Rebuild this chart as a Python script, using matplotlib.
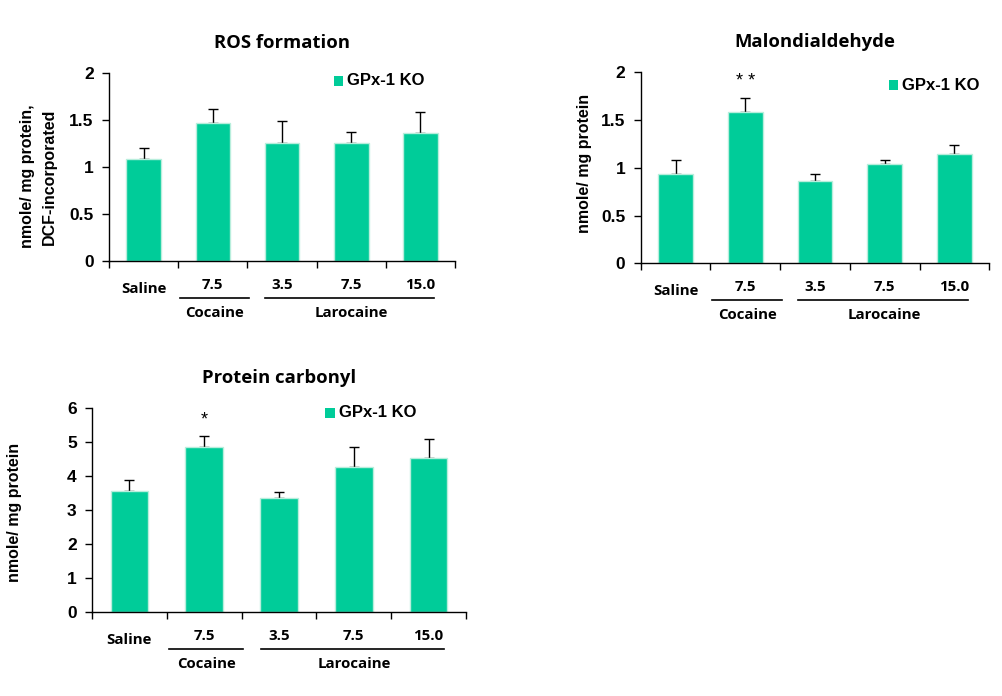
import matplotlib
matplotlib.use("Agg")
import matplotlib.pyplot as plt
import matplotlib.transforms as mtrans
from matplotlib.patches import Rectangle
from matplotlib.lines import Line2D

# ---- data ----
categories = ["Saline", "7.5", "3.5", "7.5", "15.0"]
groups = ["Cocaine", "Larocaine"]
legend_label = "GPx-1 KO"

ros_mean = [1.09, 1.475, 1.26, 1.26, 1.36]
ros_err = [0.12, 0.145, 0.23, 0.12, 0.225]

mda_mean = [0.935, 1.58, 0.862, 1.037, 1.14]
mda_err = [0.145, 0.15, 0.07, 0.045, 0.095]

pc_mean = [3.57, 4.87, 3.35, 4.28, 4.54]
pc_err = [0.31, 0.31, 0.18, 0.57, 0.55]

titles = ["ROS formation", "Malondialdehyde", "Protein carbonyl"]
ylabels = ["nmole/ mg protein,\nDCF-incorporated", "nmole/ mg protein", "nmole/ mg protein"]
yticks_ros = [0, 0.5, 1, 1.5, 2]
yticks_mda = [0, 0.5, 1, 1.5, 2]
yticks_pc = [0, 1, 2, 3, 4, 5, 6]
sig_ros = ["", "", "", "", ""]
sig_mda = ["", "* *", "", "", ""]
sig_pc = ["", "*", "", "", ""]

BAR = "#00CC99"
EDGE = "#B8EEDC"
ARIAL = "Liberation Sans"
KFONT = ["Open Sans", "DejaVu Sans"]

fig = plt.figure(figsize=(10.02, 6.96), dpi=100)

panels = [
    dict(rect=[0.1088, 0.6246, 0.3453, 0.2701], mean=ros_mean, err=ros_err, yt=yticks_ros,
         title=titles[0], ylabel=ylabels[0], sig=sig_ros, leg=(0.65, 0.932, 0.688, 0.959),
         ylab=(-0.205, 0.45)),
    dict(rect=[0.6394, 0.6217, 0.3479, 0.2744], mean=mda_mean, err=mda_err, yt=yticks_mda,
         title=titles[1], ylabel=ylabels[1], sig=sig_mda, leg=(0.712, 0.907, 0.75, 0.931),
         ylab=(-0.16, 0.525)),
    dict(rect=[0.0918, 0.1203, 0.3733, 0.2931], mean=pc_mean, err=pc_err, yt=yticks_pc,
         title=titles[2], ylabel=ylabels[2], sig=sig_pc, leg=(0.623, 0.952, 0.66, 0.977),
         ylab=(-0.206, 0.49)),
]

for p in panels:
    ax = fig.add_axes(p["rect"])
    x = list(range(len(categories)))
    ymax = p["yt"][-1]
    ax.bar(x, p["mean"], width=0.5, color=BAR, edgecolor=EDGE, linewidth=1.0, zorder=2)
    ax.errorbar(x, p["mean"], yerr=[[0] * len(x), p["err"]], fmt="none",
                ecolor="black", elinewidth=1.0, capsize=3.6, capthick=1.0, zorder=1)
    ax.set_xlim(-0.5, len(x) - 0.5)
    ax.set_ylim(0, ymax)
    ax.set_yticks(p["yt"])
    ax.set_yticklabels([("%g" % v) for v in p["yt"]], fontfamily=ARIAL,
                       fontweight="bold", fontsize=12.5)
    ax.set_xticks([i - 0.5 for i in range(len(x) + 1)])
    ax.set_xticklabels([])
    ax.tick_params(axis="both", direction="out", length=5, width=1, color="black", pad=4)
    ax.tick_params(axis="y", pad=6)
    for s in ["top", "right"]:
        ax.spines[s].set_visible(False)
    for s in ["left", "bottom"]:
        ax.spines[s].set_linewidth(1.0)

    ax.set_title(p["title"], fontfamily=KFONT, fontweight="bold", fontsize=13.3, pad=18)
    ax.text(p["ylab"][0], p["ylab"][1], p["ylabel"], transform=ax.transAxes, rotation=90,
            ha="center", va="center", fontfamily=ARIAL, fontweight="bold",
            fontsize=11.5, linespacing=1.55)

    # significance markers
    for i, s in enumerate(p["sig"]):
        if s:
            ax.annotate(s, xy=(i, p["mean"][i] + p["err"][i]), xytext=(0, 8),
                        textcoords="offset pixels", ha="center", va="bottom",
                        fontfamily=ARIAL, fontsize=13)

    # legend
    lx, ly, tx, ty = p["leg"]
    hgt = 0.052 if ymax == 2 else 0.048
    ax.add_patch(Rectangle((lx, ly), 0.027, hgt, transform=ax.transAxes,
                           facecolor=BAR, edgecolor="none", clip_on=False))
    ax.text(tx, ty, legend_label, transform=ax.transAxes, ha="left", va="center",
            fontfamily=ARIAL, fontweight="bold", fontsize=12)

    # category labels
    for i, c in enumerate(categories):
        off = -28 if i == 0 else -24
        ax.annotate(c, xy=(i, 0), xycoords=("data", "axes fraction"), xytext=(0, off),
                    textcoords="offset pixels", ha="center", va="center",
                    fontfamily=KFONT, fontweight="bold", fontsize=10.8)
    # group lines + labels
    group_spans = [(0.53, 1.52), (1.76, 4.2)]
    group_centers = [1.03, 3.0]
    trans = ax.get_xaxis_transform()
    off = mtrans.ScaledTranslation(0, -37 / 100.0, fig.dpi_scale_trans)
    for (a, b), gc, g in zip(group_spans, group_centers, groups):
        ax.add_line(Line2D([a, b], [0, 0], transform=trans + off, color="black",
                           linewidth=1.2, clip_on=False))
        ax.annotate(g, xy=(gc, 0), xycoords=("data", "axes fraction"), xytext=(0, -52),
                    textcoords="offset pixels", ha="center", va="center",
                    fontfamily=KFONT, fontweight="bold", fontsize=10.8)

fig.savefig("out.png", dpi=100)
